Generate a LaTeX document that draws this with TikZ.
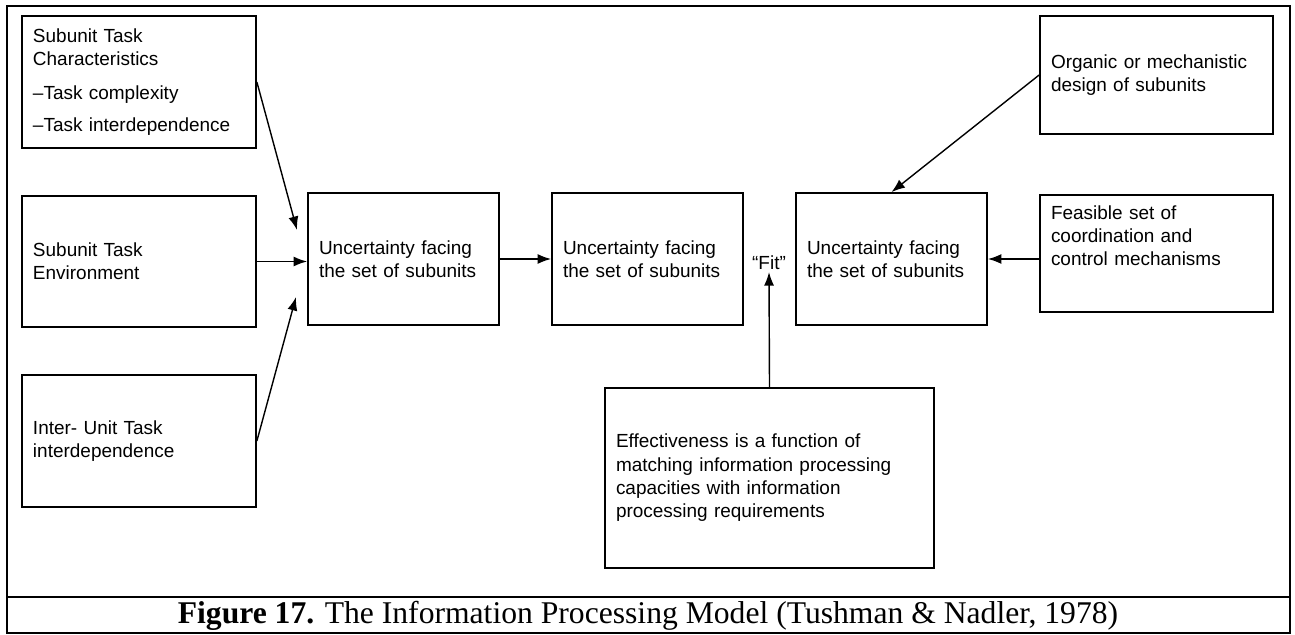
\documentclass[tikz,border=0pt]{standalone}
\usepackage{fontspec}
\setmainfont{Liberation Serif}
\newfontfamily\boxfont{Liberation Sans}
\usetikzlibrary{arrows.meta}
\tikzset{
  box/.style={draw, line width=1pt, fill=white, align=left, inner xsep=0pt,
    font=\boxfont\fontsize{10.8}{13.3}\selectfont},
  boxsize/.code 2 args={%
    \pgfmathsetmacro\bw{#1*0.02}\pgfmathsetmacro\bh{#2*0.02}%
    \pgfmathsetmacro\tw{(#1-22)*0.02}%
    \tikzset{minimum width=\bw cm, minimum height=\bh cm, text width=\tw cm}},
  link/.style={line width=0.8pt, -{Latex[length=2.7mm,width=2mm]}},
}
\begin{document}
\begin{tikzpicture}[x=0.02cm, y=-0.02cm]
  \useasboundingbox (0,0) rectangle (1295,635);
  \draw[line width=1.2pt] (7,6) rectangle (1290,633);
  \draw[line width=1.2pt] (7,597) -- (1290,597);
  \draw
    (139,82) node[box, boxsize={234}{132}] (chars){Subunit Task\\ Characteristics\\[5.5pt] –Task complexity\\[5pt] –Task interdependence}
    (139,261.5) node[box, boxsize={234}{131}] (env){Subunit Task\\ Environment}
    (139,441) node[box, boxsize={234}{132}] (inter){Inter- Unit Task\\ interdependence}
    (403.5,259) node[box, boxsize={191}{132}] (unc1){Uncertainty facing\\ the set of subunits}
    (647.5,259) node[box, boxsize={191}{132}] (unc2){Uncertainty facing\\ the set of subunits}
    (891.5,259) node[box, boxsize={191}{132}] (unc3){Uncertainty facing\\ the set of subunits}
    (1156.5,75) node[box, boxsize={233}{118}] (design){Organic or mechanistic\\ design of subunits}
    (1156.5,253.5) node[box, boxsize={233}{117}, text depth=47pt] (mech){Feasible set of\\ coordination and\\ control mechanisms}
    (769.5,478) node[box, boxsize={329}{180}] (eff){Effectiveness is a function of\\ matching information processing\\ capacities with information\\ processing requirements}
    (769,263) node[font=\boxfont\fontsize{10.8}{13.3}\selectfont, inner sep=1pt] (fit){“Fit”}
    (648,616) node[font=\fontsize{18}{21}\selectfont] (caption){\textbf{Figure 17.} The Information Processing Model (Tushman \& Nadler, 1978)};
  \coordinate (charsTip) at (297,230);
  \coordinate (interTip) at (296,297);
  \begin{scope}[link]
    \draw (chars.east) to (charsTip);
    \draw (env.east) to (env.east -| unc1.west);
    \draw (inter.east) to (interTip);
    \draw (unc1.east) to (unc2.west);
    \draw (design.west) to (unc3.north);
    \draw (unc3.east -| mech.west) to (unc3.east);
    \draw (eff.north) to (fit.south);
  \end{scope}
\end{tikzpicture}
\end{document}
